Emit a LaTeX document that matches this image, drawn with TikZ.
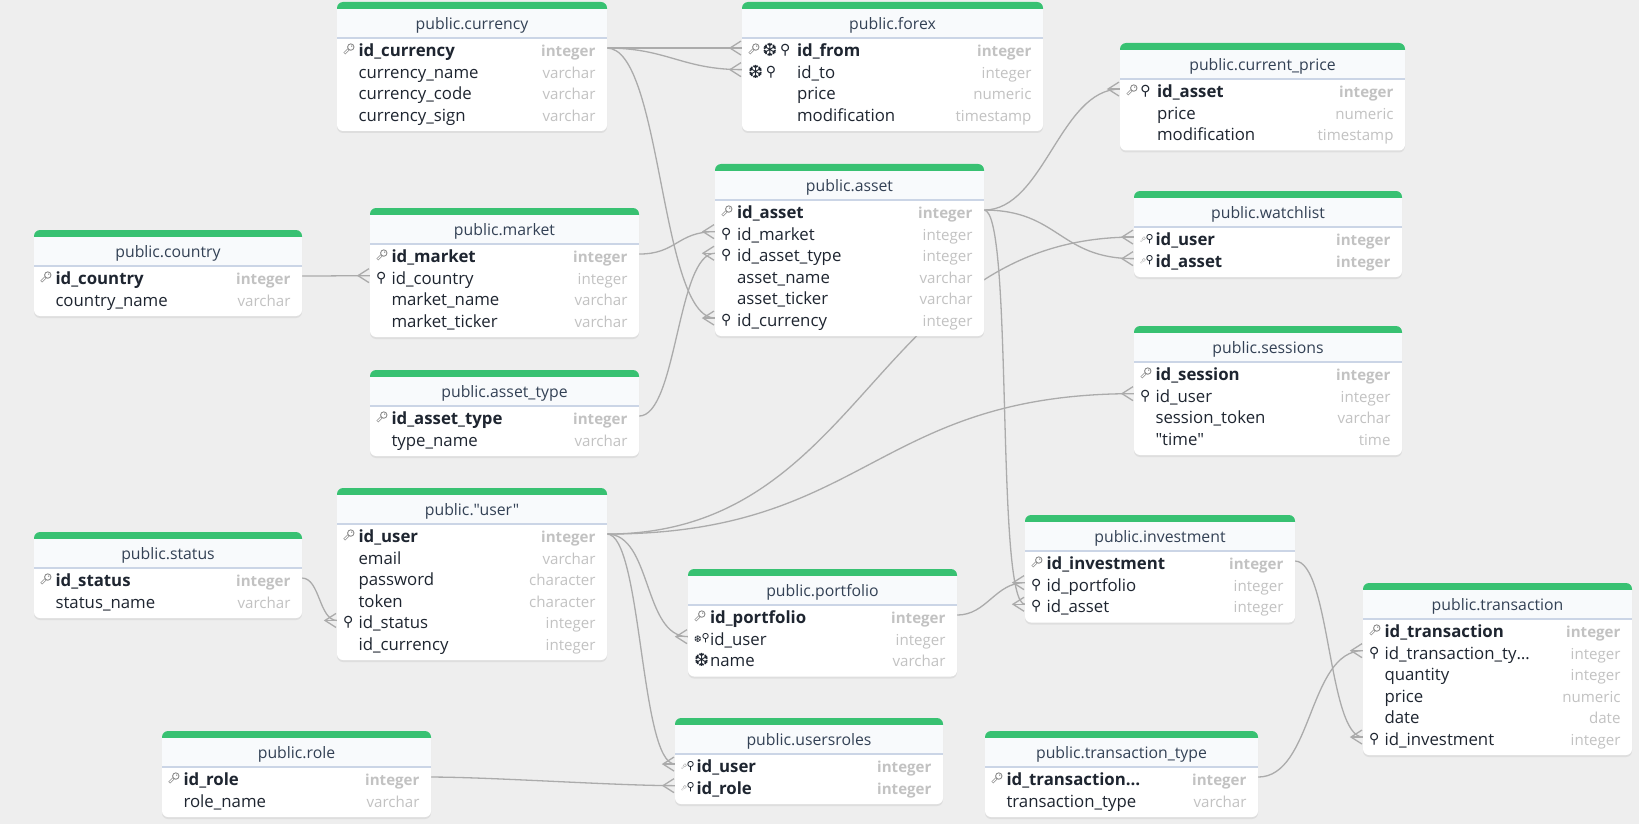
\documentclass[tikz,border=0pt]{standalone}
\usepackage{fontspec}
\usepackage{xcolor}
\usepackage{tikz}
\usetikzlibrary{positioning, shadows}
\setmainfont{Open Sans}[Ligatures=TeXOff]
\newfontfamily\symfont{DejaVu Sans}
\definecolor{pagebg}{HTML}{EEEEEE}
\definecolor{barcol}{HTML}{38C172}
\definecolor{headcol}{HTML}{F8FAFC}
\definecolor{rulecol}{HTML}{CBD5E6}
\definecolor{titlecol}{HTML}{334155}
\definecolor{textcol}{HTML}{1E2530}
\definecolor{typecol}{HTML}{C2C2C2}
\definecolor{keycol}{HTML}{8A8A8A}
\definecolor{linecol}{HTML}{ABABAB}
\pgfdeclarelayer{base}
\pgfdeclarelayer{links}
\pgfsetlayers{base,links,main}

\newcommand{\ikey}[1][keycol]{\tikz[x=1pt,y=1pt,baseline=-2pt]{
    \draw[#1, line width=2.6pt] (1,1) -- (6,6);
    \draw[white, line width=1.1pt] (1.3,1.3) -- (6,6);
    \filldraw[draw=#1, fill=white, line width=.9pt] (7.5,7.5) circle (3.2);
    \fill[#1] (8.4,8.4) circle (.7);}}
\newcommand{\skey}{\raisebox{2.5pt}{\scalebox{.5}{\ikey[keycol!60]}}}
\newcommand{\ipin}{{\symfont\fontsize{14}{14}\selectfont\raisebox{2pt}{⚲}}}
\newcommand{\spin}{{\symfont\fontsize{11}{11}\selectfont\raisebox{3.5pt}{⚲}}}
\newcommand{\isnow}{{\symfont\fontsize{18}{18}\selectfont\raisebox{0pt}{❆}}}
\newcommand{\ssnow}{{\symfont\fontsize{9}{9}\selectfont\raisebox{2.5pt}{❆}}}

% card, green bar and title of one table
\newcommand{\dbtable}[6]{
    \def\tabw{#4}
    \fill[tablecard] (#2,#3) rectangle ++(#4,{64.5+21.5*(#5-1)});
    \fill[barcol] (#2,#3+7) [rounded corners=6pt] -- (#2,#3) -- (#2+#4,#3) [sharp corners] -- (#2+#4,#3+7) -- cycle;
    \node[headbox, minimum width=#4pt, anchor=north west] (#1) at (#2,#3+7) {#6};
    \draw[headrule] ([yshift=-.75pt]#1.south west) -- ([yshift=-.75pt]#1.south east);
}
\newcommand{\dbrow}[6]{
    \node[rowbox, below=0pt of #2] (#1) {\hbox to \tabw pt{\hspace{6pt}\makebox[\dimexpr#3pt-6pt\relax][l]{#4}#5\hfill{\color{typecol}\fontsize{15.1}{16}\selectfont #6}\hspace{11.5pt}}};
}
\newcommand{\pkrow}[6]{\dbrow{#1}{#2}{#3}{#4}{\bfseries #5}{\bfseries #6}}
% line from a key to a foreign key, with the fork at its end
\newcommand{\crowlink}[3]{
    \draw[relline] (#1.east) .. controls +(#3,0) and +(-#3,0) .. (#2.west);
    \draw[relline] ([yshift=7pt,xshift=-1pt]#2.west) -- ([xshift=-12pt]#2.west) -- ([yshift=-7pt,xshift=-1pt]#2.west);
    \draw[relline] ([xshift=-12pt]#2.west) -- (#2.west);
}

\begin{document}
\begin{tikzpicture}[x=1pt, y=-1pt,
        tablecard/.style={fill=white, rounded corners=6pt,
                     drop shadow={shadow xshift=0pt, shadow yshift=-2pt, opacity=.14}},
        headbox/.style={fill=headcol, inner sep=0pt, outer sep=0pt, minimum height=28.25pt,
                     text height=11.8pt, text depth=0pt,
                     text=titlecol, font=\fontsize{15.8}{18}\selectfont},
        headrule/.style={rulecol, line width=1.6pt},
        rowbox/.style={inner sep=0pt, outer sep=0pt, minimum height=21.6pt, text height=17pt,
                     text depth=0pt, text=textcol, font=\fontsize{16.8}{18}\selectfont},
        relline/.style={linecol, line width=1.3pt}
    ]
    \useasboundingbox (0,0) rectangle (1639,824);
    \begin{pgfonlayer}{base}
        \fill[pagebg] (0,0) rectangle (1639,824);
    \end{pgfonlayer}

    \dbtable{currency}{337}{2}{270}{4}{public.currency}
    \pkrow{curId}{currency}{21.5}{\ikey}{id\_currency}{integer}
    \dbrow{curName}{curId}{21.5}{}{currency\_name}{varchar}
    \dbrow{curCode}{curName}{21.5}{}{currency\_code}{varchar}
    \dbrow{curSign}{curCode}{21.5}{}{currency\_sign}{varchar}

    \dbtable{forex}{742}{2}{301}{4}{public.forex}
    \pkrow{fxFrom}{forex}{55}{\ikey\,\isnow\,\ipin}{id\_from}{integer}
    \dbrow{fxTo}{fxFrom}{55}{\isnow\,\ipin}{id\_to}{integer}
    \dbrow{fxPrice}{fxTo}{55}{}{price}{numeric}
    \dbrow{fxMod}{fxPrice}{55}{}{modification}{timestamp}

    \dbtable{curprice}{1120}{43}{285}{3}{public.current\_price}
    \pkrow{cpAsset}{curprice}{37}{\ikey\,\ipin}{id\_asset}{integer}
    \dbrow{cpPrice}{cpAsset}{37}{}{price}{numeric}
    \dbrow{cpMod}{cpPrice}{37}{}{modification}{timestamp}

    \dbtable{asset}{715}{164}{269}{6}{public.asset}
    \pkrow{asId}{asset}{22}{\ikey}{id\_asset}{integer}
    \dbrow{asMarket}{asId}{22}{\ipin}{id\_market}{integer}
    \dbrow{asType}{asMarket}{22}{\ipin}{id\_asset\_type}{integer}
    \dbrow{asName}{asType}{22}{}{asset\_name}{varchar}
    \dbrow{asTicker}{asName}{22}{}{asset\_ticker}{varchar}
    \dbrow{asCur}{asTicker}{22}{\ipin}{id\_currency}{integer}

    \dbtable{watchlist}{1134}{191}{268}{2}{public.watchlist}
    \pkrow{wlUser}{watchlist}{21.5}{\skey\spin}{id\_user}{integer}
    \pkrow{wlAsset}{wlUser}{21.5}{\skey\spin}{id\_asset}{integer}

    \dbtable{sessions}{1134}{326}{268}{4}{public.sessions}
    \pkrow{seId}{sessions}{21.5}{\ikey}{id\_session}{integer}
    \dbrow{seUser}{seId}{21.5}{\ipin}{id\_user}{integer}
    \dbrow{seToken}{seUser}{21.5}{}{session\_token}{varchar}
    \dbrow{seTime}{seToken}{21.5}{}{"time"}{time}

    \dbtable{country}{34}{230}{268}{2}{public.country}
    \pkrow{coId}{country}{21.5}{\ikey}{id\_country}{integer}
    \dbrow{coName}{coId}{21.5}{}{country\_name}{varchar}

    \dbtable{market}{370}{208}{269}{4}{public.market}
    \pkrow{maId}{market}{21.5}{\ikey}{id\_market}{integer}
    \dbrow{maCountry}{maId}{21.5}{\ipin}{id\_country}{integer}
    \dbrow{maName}{maCountry}{21.5}{}{market\_name}{varchar}
    \dbrow{maTicker}{maName}{21.5}{}{market\_ticker}{varchar}

    \dbtable{assettype}{370}{370}{269}{2}{public.asset\_type}
    \pkrow{atId}{assettype}{21.5}{\ikey}{id\_asset\_type}{integer}
    \dbrow{atName}{atId}{21.5}{}{type\_name}{varchar}

    \dbtable{user}{337}{488}{270}{6}{public."user"}
    \pkrow{usId}{user}{21.5}{\ikey}{id\_user}{integer}
    \dbrow{usMail}{usId}{21.5}{}{email}{varchar}
    \dbrow{usPass}{usMail}{21.5}{}{password}{character}
    \dbrow{usToken}{usPass}{21.5}{}{token}{character}
    \dbrow{usStatus}{usToken}{21.5}{\ipin}{id\_status}{integer}
    \dbrow{usCur}{usStatus}{21.5}{}{id\_currency}{integer}

    \dbtable{status}{34}{532}{268}{2}{public.status}
    \pkrow{stId}{status}{21.5}{\ikey}{id\_status}{integer}
    \dbrow{stName}{stId}{21.5}{}{status\_name}{varchar}

    \dbtable{portfolio}{688}{569}{269}{3}{public.portfolio}
    \pkrow{poId}{portfolio}{22}{\ikey}{id\_portfolio}{integer}
    \dbrow{poUser}{poId}{22}{\ssnow\spin}{id\_user}{integer}
    \dbrow{poName}{poUser}{22}{\isnow}{name}{varchar}

    \dbtable{investment}{1025}{515}{270}{3}{public.investment}
    \pkrow{inId}{investment}{21.5}{\ikey}{id\_investment}{integer}
    \dbrow{inPort}{inId}{21.5}{\ipin}{id\_portfolio}{integer}
    \dbrow{inAsset}{inPort}{21.5}{\ipin}{id\_asset}{integer}

    \dbtable{transaction}{1363}{583}{269}{6}{public.transaction}
    \pkrow{trId}{transaction}{21.5}{\ikey}{id\_transaction}{integer}
    \dbrow{trType}{trId}{21.5}{\ipin}{id\_transaction\_ty…}{integer}
    \dbrow{trQty}{trType}{21.5}{}{quantity}{integer}
    \dbrow{trPrice}{trQty}{21.5}{}{price}{numeric}
    \dbrow{trDate}{trPrice}{21.5}{}{date}{date}
    \dbrow{trInv}{trDate}{21.5}{\ipin}{id\_investment}{integer}

    \dbtable{transtype}{985}{731}{273}{2}{public.transaction\_type}
    \pkrow{ttId}{transtype}{21.5}{\ikey}{id\_transaction…}{integer}
    \dbrow{ttName}{ttId}{21.5}{}{transaction\_type}{varchar}

    \dbtable{role}{162}{731}{269}{2}{public.role}
    \pkrow{roId}{role}{21.5}{\ikey}{id\_role}{integer}
    \dbrow{roName}{roId}{21.5}{}{role\_name}{varchar}

    \dbtable{usersroles}{675}{718}{268}{2}{public.usersroles}
    \pkrow{urUser}{usersroles}{21.5}{\skey\spin}{id\_user}{integer}
    \pkrow{urRole}{urUser}{21.5}{\skey\spin}{id\_role}{integer}

    \begin{pgfonlayer}{links}
        \crowlink{curId}{fxFrom}{60}
        \crowlink{curId}{fxTo}{60}
        \crowlink{curId}{asCur}{55}
        \crowlink{maId}{asMarket}{38}
        \crowlink{atId}{asType}{38}
        \crowlink{coId}{maCountry}{30}
        \crowlink{asId}{cpAsset}{60}
        \crowlink{asId}{wlAsset}{75}
        \crowlink{usId}{wlUser}{260}
        \crowlink{usId}{seUser}{260}
        \crowlink{asId}{inAsset}{30}
        \crowlink{usId}{poUser}{45}
        \crowlink{usId}{urUser}{35}
        \crowlink{roId}{urRole}{60}
        \crowlink{stId}{usStatus}{18}
        \crowlink{poId}{inPort}{30}
        \crowlink{inId}{trInv}{35}
        \crowlink{ttId}{trType}{55}
    \end{pgfonlayer}
\end{tikzpicture}
\end{document}
